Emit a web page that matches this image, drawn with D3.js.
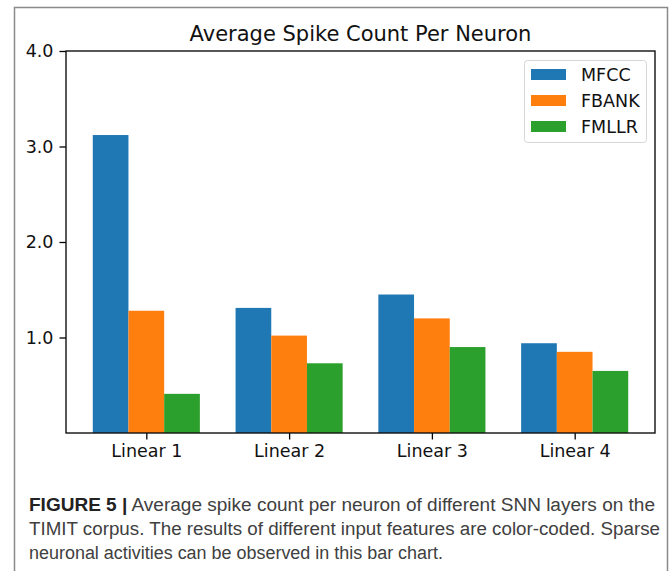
<!DOCTYPE html>
<html>
<head>
<meta charset="utf-8">
<script src="https://cdn.jsdelivr.net/npm/d3@7"></script>
<style>
  html, body { margin: 0; padding: 0; background: #fff; }
  svg { display: block; }
</style>
</head>
<body>
<div id="chart"></div>
<script>
    // chart values
    const layers = ["Linear 1", "Linear 2", "Linear 3", "Linear 4"];
    const features = ["MFCC", "FBANK", "FMLLR"];
    const mfcc = [3.12, 1.31, 1.45, 0.94];
    const fbank = [1.28, 1.02, 1.20, 0.85];
    const fmllr = [0.41, 0.73, 0.90, 0.65];
    const yTicks = [1.0, 2.0, 3.0, 4.0];
    const colors = ["#1f77b4", "#ff7f0e", "#2ca02c"];
    const title = "Average Spike Count Per Neuron";
    const captionBold = "FIGURE 5 |";
    const captionLines = [
      " Average spike count per neuron of different SNN layers on the",
      "TIMIT corpus. The results of different input features are color-coded. Sparse",
      "neuronal activities can be observed in this bar chart."
    ];

    const width = 669, height = 571;
    const svg = d3.select("#chart")
      .append("svg")
      .attr("width", width)
      .attr("height", height);

    // outer figure frame
    svg.append("rect")
      .attr("x", 14.5).attr("y", 7.5)
      .attr("width", 653).attr("height", 600)
      .attr("fill", "none")
      .attr("stroke", "#8a8a8a")
      .attr("stroke-width", 1.5);

    const plot = { left: 66, right: 655, top: 51, bottom: 433 };
    const series = [mfcc, fbank, fmllr];
    const barW = 0.25;

    // matplotlib-like limits: bars span -0.375..3.375 plus 5% margin
    const x = d3.scaleLinear()
      .domain([-0.5625, 3.5625])
      .range([plot.left, plot.right]);
    const y = d3.scaleLinear()
      .domain([0, 4])
      .range([plot.bottom, plot.top]);

    const font = "DejaVu Sans, sans-serif";

    // bars
    series.forEach((vals, s) => {
      svg.append("g")
        .selectAll("rect")
        .data(vals)
        .join("rect")
        .attr("x", (d, i) => x(i + (s - 1) * barW - barW / 2))
        .attr("width", (d, i) => x(i + (s - 1) * barW + barW / 2) - x(i + (s - 1) * barW - barW / 2))
        .attr("y", d => y(d))
        .attr("height", d => y(0) - y(d))
        .attr("fill", colors[s]);
    });

    // axes
    const yAxis = d3.axisLeft(y)
      .tickValues(yTicks)
      .tickFormat(d3.format(".1f"))
      .tickSize(6.5)
      .tickPadding(6);
    const xAxis = d3.axisBottom(x)
      .tickValues(d3.range(layers.length))
      .tickFormat(i => layers[i])
      .tickSize(6.5)
      .tickPadding(5);

    const gy = svg.append("g")
      .attr("transform", `translate(${plot.left},0)`)
      .call(yAxis);
    const gx = svg.append("g")
      .attr("transform", `translate(0,${plot.bottom})`)
      .call(xAxis);

    [gx, gy].forEach(g => {
      g.select(".domain").remove();
      g.selectAll(".tick line").attr("stroke", "#000").attr("stroke-width", 1.3);
      g.selectAll(".tick text")
        .attr("font-family", font)
        .attr("font-size", 17.5)
        .attr("fill", "#111");
    });

    // frame (spines)
    svg.append("rect")
      .attr("x", plot.left).attr("y", plot.top)
      .attr("width", plot.right - plot.left)
      .attr("height", plot.bottom - plot.top)
      .attr("fill", "none")
      .attr("stroke", "#111")
      .attr("stroke-width", 1.4);

    // title
    svg.append("text")
      .attr("x", (plot.left + plot.right) / 2)
      .attr("y", 41)
      .attr("text-anchor", "middle")
      .attr("font-family", font)
      .attr("font-size", 21)
      .attr("fill", "#111")
      .text(title);

    // legend
    const legend = svg.append("g").attr("transform", "translate(524,60)");
    legend.append("rect")
      .attr("x", 0.5).attr("y", 0.5)
      .attr("width", 122).attr("height", 82)
      .attr("rx", 3)
      .attr("fill", "#fff")
      .attr("fill-opacity", 0.8)
      .attr("stroke", "#d6d6d6")
      .attr("stroke-width", 1);
    const items = legend.selectAll("g.item")
      .data(features)
      .join("g")
      .attr("class", "item")
      .attr("transform", (d, i) => `translate(0,${14.5 + i * 26})`);
    items.append("rect")
      .attr("x", 7).attr("y", -5.5)
      .attr("width", 35).attr("height", 11)
      .attr("fill", (d, i) => colors[i]);
    items.append("text")
      .attr("x", 57).attr("y", 6)
      .attr("font-family", font)
      .attr("font-size", 17.5)
      .attr("fill", "#111")
      .text(d => d);

    // caption (original uses a condensed face, so lines are fitted to their measured ends)
    const capFont = "Liberation Sans, Arial, sans-serif";
    const capX = 29;
    const capY = [511, 535, 559];
    const lineEnds = [655, 660, 443];
    const cap = svg.append("g")
      .attr("font-family", capFont)
      .attr("font-size", 18)
      .attr("fill", "#404040");
    const t1 = cap.append("text").attr("x", capX).attr("y", capY[0]);
    t1.append("tspan").attr("font-weight", "bold").attr("fill", "#222").text(captionBold);
    t1.append("tspan").text(captionLines[0]);
    cap.append("text").attr("x", capX).attr("y", capY[1]).text(captionLines[1]);
    cap.append("text").attr("x", capX).attr("y", capY[2]).text(captionLines[2]);

    cap.selectAll("text")
      .attr("textLength", (d, i) => lineEnds[i] - capX)
      .attr("lengthAdjust", "spacingAndGlyphs");
</script>
</body>
</html>
